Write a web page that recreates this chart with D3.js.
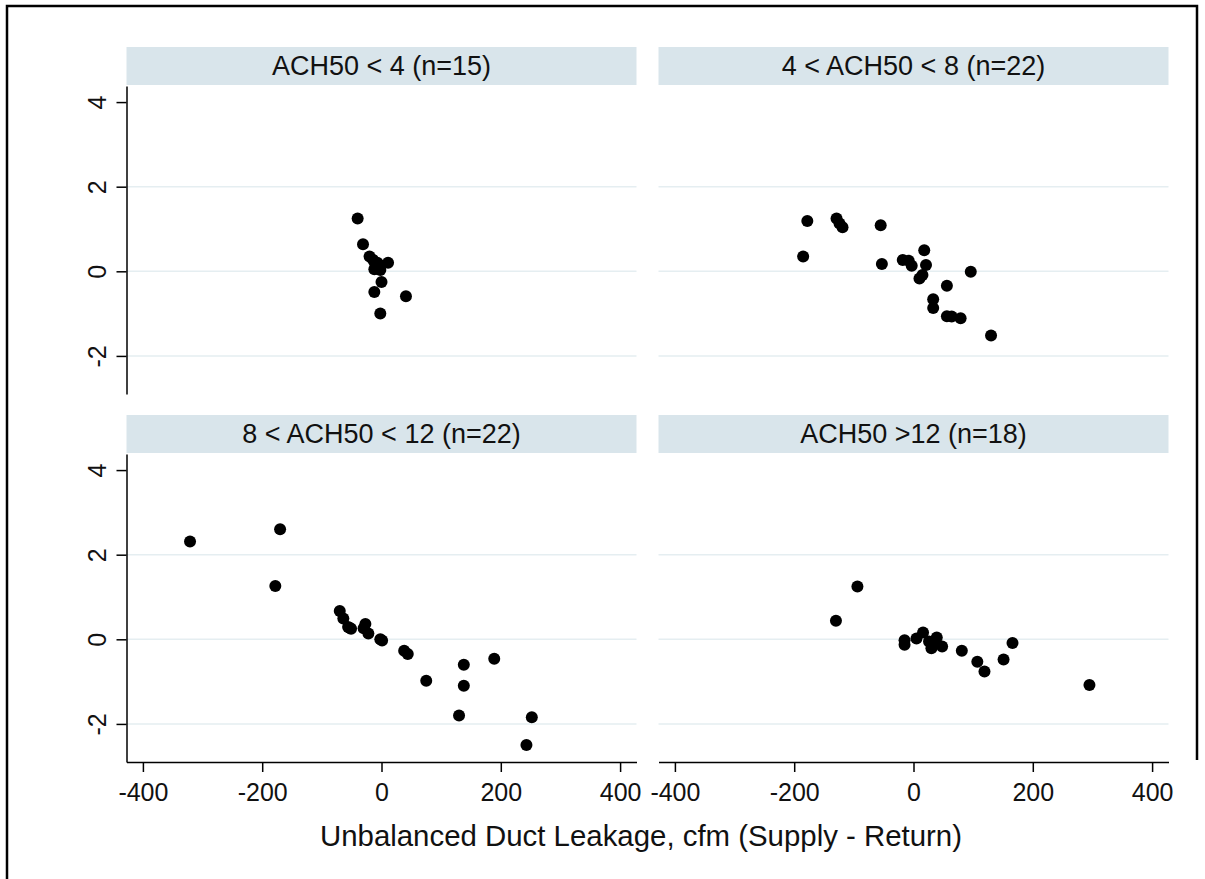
<!DOCTYPE html>
<html>
<head>
<meta charset="utf-8">
<script src="https://cdn.jsdelivr.net/npm/d3@7"></script>
<style>
body { margin: 0; background: #fff; }
svg { display: block; font-family: "Liberation Sans", Arial, sans-serif; }
</style>
</head>
<body>
<svg id="chart" width="1205" height="879"></svg>
<script>
// panel titles, in reading order
var panelTitles = ["ACH50 < 4 (n=15)", "4 < ACH50 < 8 (n=22)", "8 < ACH50 < 12 (n=22)", "ACH50 >12 (n=18)"];
var xTicks = [-400, -200, 0, 200, 400];
var yTicks = [-2, 0, 2, 4];
var gridValues = [-2, 0, 2];
var xTitle = "Unbalanced Duct Leakage, cfm (Supply - Return)";

// ACH50 < 4
var tightX = [-40, -31, -20, -14, -10, -7, -6, -3, -12, -2, 11, 0, -12, 41, -2];
var tightY = [1.25, 0.64, 0.35, 0.27, 0.13, 0.20, 0.11, 0.15, 0.05, 0.03, 0.20, -0.25, -0.49, -0.59, -1.0];

// 4 < ACH50 < 8
var mediumX = [-178, -185, -129, -124, -119, -55, -53, -18, -8, -3, 18, 21, 15, 10, 96, 56, 33, 33, 56, 64, 79, 130];
var mediumY = [1.19, 0.35, 1.25, 1.13, 1.04, 1.09, 0.17, 0.27, 0.25, 0.13, 0.50, 0.15, -0.09, -0.17, -0.01, -0.34, -0.66, -0.87, -1.06, -1.07, -1.11, -1.52];

// 8 < ACH50 < 12
var leakyX = [-321, -170, -178, -70, -64, -56, -51, -27, -30, -22, 1, -2, 38, 44, 75, 138, 138, 189, 130, 252, 243, -53];
var leakyY = [2.31, 2.60, 1.26, 0.67, 0.49, 0.29, 0.25, 0.36, 0.26, 0.14, -0.03, 0.0, -0.27, -0.35, -0.98, -0.60, -1.10, -0.46, -1.80, -1.84, -2.50, 0.27];

// ACH50 > 12
var looseX = [-94, -130, -15, -15, 5, 16, 26, 30, 39, 36, 48, 81, 107, 119, 151, 166, 295, 32];
var looseY = [1.25, 0.44, -0.02, -0.13, 0.02, 0.16, -0.05, -0.21, 0.04, -0.09, -0.17, -0.27, -0.53, -0.76, -0.48, -0.09, -1.08, -0.13];

var panelX = [tightX, mediumX, leakyX, looseX];
var panelY = [tightY, mediumY, leakyY, looseY];

var plotW = 510, plotH = 308, stripH = 38;
var colLeft = [126.5, 658.5];
var rowTop = [86, 454];

var x = d3.scaleLinear().domain([-427.5, 427.5]).range([0, plotW]);
var y = d3.scaleLinear().domain([-2.9, 4.38]).range([plotH, 0]);

var svg = d3.select("#chart");

// outer frame
svg.append("path")
    .attr("d", "M7,879 V6 H1197 V760")
    .attr("fill", "none")
    .attr("stroke", "#000")
    .attr("stroke-width", 2.5);

function minus(d) { return d < 0 ? "-" + Math.abs(d) : d; }

function drawPanel(i) {
    var col = i % 2, row = Math.floor(i / 2);
    var g = svg.append("g")
        .attr("transform", "translate(" + colLeft[col] + "," + rowTop[row] + ")");

    // title strip
    g.append("rect")
        .attr("x", 0).attr("y", -stripH - 1)
        .attr("width", plotW).attr("height", stripH)
        .attr("fill", "#d9e5eb");
    g.append("text")
        .attr("x", plotW / 2).attr("y", -11)
        .attr("text-anchor", "middle")
        .attr("font-size", 27)
        .attr("fill", "#111")
        .text(panelTitles[i]);

    g.selectAll(".grid")
        .data(gridValues)
        .join("line")
        .attr("class", "grid")
        .attr("x1", 0).attr("x2", plotW)
        .attr("y1", function(d) { return y(d); })
        .attr("y2", function(d) { return y(d); })
        .attr("stroke", "#e5eef1")
        .attr("stroke-width", 1.5);

    if (col == 0) {
        var ya = g.append("g")
            .call(d3.axisLeft(y).tickValues(yTicks).tickSize(10).tickSizeOuter(0));
        ya.select(".domain").attr("stroke-width", 1.5);
        ya.selectAll(".tick line").attr("stroke-width", 1.5);
        ya.selectAll(".tick text")
            .attr("transform", "rotate(-90)")
            .attr("x", 0).attr("y", -21).attr("dy", 0)
            .attr("text-anchor", "middle")
            .attr("font-size", 25)
            .attr("font-family", "Liberation Sans, Arial, sans-serif")
            .attr("fill", "#111")
            .text(minus);
    }

    if (row == 1) {
        var xa = g.append("g")
            .attr("transform", "translate(0," + plotH + ")")
            .call(d3.axisBottom(x).tickValues(xTicks).tickSize(10).tickSizeOuter(0));
        xa.select(".domain").attr("stroke-width", 1.5);
        xa.selectAll(".tick line").attr("stroke-width", 1.5);
        xa.selectAll(".tick text")
            .attr("y", 39).attr("dy", 0)
            .attr("font-size", 25)
            .attr("font-family", "Liberation Sans, Arial, sans-serif")
            .attr("fill", "#111")
            .text(minus);
    }

    var xs = panelX[i], ys = panelY[i];
    g.selectAll(".dot")
        .data(d3.range(xs.length))
        .join("circle")
        .attr("class", "dot")
        .attr("cx", function(k) { return x(xs[k]); })
        .attr("cy", function(k) { return y(ys[k]); })
        .attr("r", 6)
        .attr("fill", "#000");
}

for (var i = 0; i < 4; i++) drawPanel(i);

svg.append("text")
    .attr("x", 641)
    .attr("y", 846)
    .attr("text-anchor", "middle")
    .attr("font-size", 29.4)
    .attr("fill", "#111")
    .text(xTitle);
</script>
</body>
</html>
